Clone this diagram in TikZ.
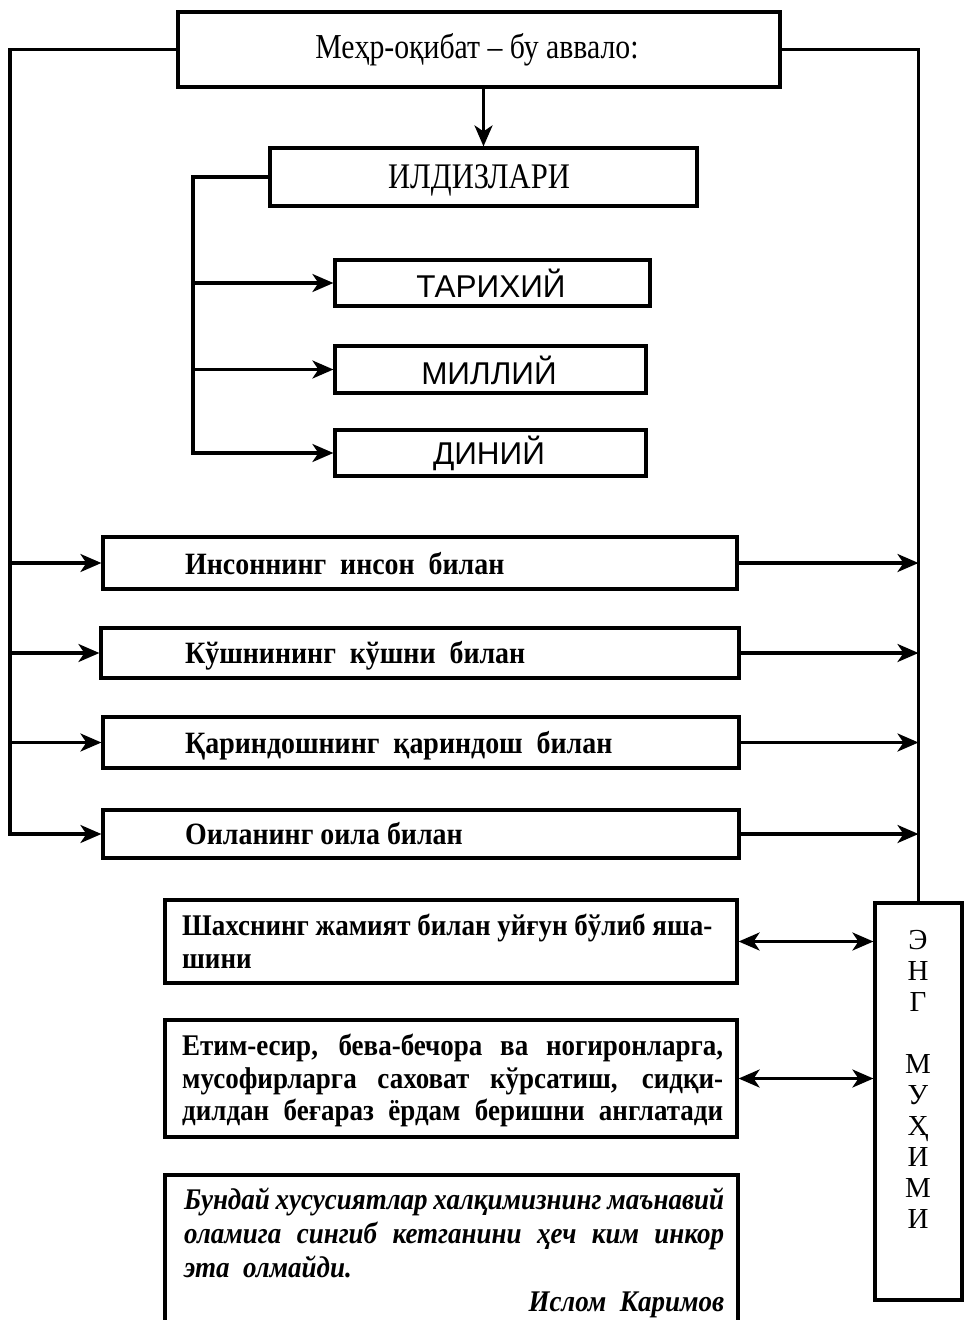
\documentclass[tikz,border=0pt]{standalone}
\usepackage{fontspec}
\setmainfont{Liberation Serif}
\newfontfamily\titlefont[FakeStretch=0.85]{Liberation Serif}
\newfontfamily\bodyfont[FakeStretch=0.9]{Liberation Serif}
\newfontfamily\sansf{Liberation Sans}
\usetikzlibrary{arrows.meta,fit}
\begin{document}
\begin{tikzpicture}[x=1pt,y=-1pt,
  box/.style={draw,line width=3.2pt,inner sep=0pt},
  conn/.style={line width=3.2pt},
  tip/.tip={Stealth[length=21pt,width=18pt,inset=6pt]},
  arr/.style={conn,-tip},
  darr/.style={conn,tip-tip},
  body/.style={font=\bodyfont\fontsize{31}{32.5}\selectfont\bfseries, inner sep=0pt, anchor=base west},
  para/.style={font=\bodyfont\fontsize{30}{32.5}\selectfont\bfseries, inner sep=0pt, anchor=north west, align=left},
  caps/.style={font=\sansf\fontsize{31.5}{36}\selectfont, inner sep=0pt},
]
\useasboundingbox (0,0) rectangle (964,1320);
\fill[white] (0,0) rectangle (964,1320);
% boxes
\node[box, fit={(178,12) (780,87)}] (top) {};
\node[box, fit={(270,148) (697,206)}] (ild) {};
\node[box, fit={(335,260) (650,306)}] (t1) {};
\node[box, fit={(335,346) (646,393)}] (t2) {};
\node[box, fit={(335,430) (646,476)}] (t3) {};
\node[box, fit={(103,537) (737,589)}] (b1) {};
\node[box, fit={(101,628) (739,678)}] (b2) {};
\node[box, fit={(103,717) (739,768)}] (b3) {};
\node[box, fit={(103,810) (739,858)}] (b4) {};
\node[box, fit={(165,900) (737,983)}] (s1) {};
\node[box, fit={(165,1020) (737,1137)}] (s2) {};
\node[box, fit={(165,1175) (738,1340)}] (q) {};
\node[box, fit={(875,903) (962,1300)}] (eng) {};
% texts
\node[font=\titlefont\fontsize{35}{38}\selectfont, inner sep=0pt] (toptx) at (477,50) {Меҳр-оқибат – бу аввало:};
\node[font=\titlefont\fontsize{36}{40}\selectfont, inner sep=0pt] (ildtx) at (479,180) {ИЛДИЗЛАРИ};
\node[caps] (t1tx) at (491,283) {ТАРИХИЙ};
\node[caps] (t2tx) at (489,370) {МИЛЛИЙ};
\node[caps] (t3tx) at (489,453) {ДИНИЙ};
\node[body] (b1tx) at (185,574) {Инсоннинг\ \ инсон\ \ билан};
\node[body] (b2tx) at (185,663) {Кўшнининг\ \ кўшни\ \ билан};
\node[body] (b3tx) at (185,753) {Қариндошнинг\ \ қариндош\ \ билан};
\node[body] (b4tx) at (185,844) {Оиланинг оила билан};
\node[para] (s1tx) at (182,914) {Шахснинг жамият билан уйғун бўлиб яша-\\шини};
\node[para] (s2tx) at (182,1034) {%
\makebox[541pt][s]{Етим-есир, бева-бечора ва ногиронларга,}\\
\makebox[541pt][s]{мусофирларга саховат кўрсатиш, сидқи-}\\
\makebox[541pt][s]{дилдан беғараз ёрдам беришни англатади}};
\node[para, font=\bodyfont\fontsize{30}{34}\selectfont\bfseries\itshape] (qtx) at (184,1188) {%
\makebox[540pt][s]{Бундай хусусиятлар халқимизнинг маънавий}\\
\makebox[540pt][s]{оламига сингиб кетганини ҳеч ким инкор}\\
эта\ \ олмайди.\\
\makebox[540pt][r]{Ислом\ \ Каримов}};
\node[font=\fontsize{29}{31}\selectfont, inner sep=0pt, anchor=north, align=center] (engtx) at (918,930) {Э\\Н\\Г\\[31pt]М\\У\\Ҳ\\И\\М\\И};
% connectors
\coordinate (lx) at (10,0);
\coordinate (bx) at (193,0);
\draw[arr] (ild.north |- top.south) -- (ild.north);
\draw[arr] (top.west) -| (lx |- b4) -- (b4.west);
\draw[arr] (lx |- b1) -- (b1.west);
\draw[arr] (lx |- b2) -- (b2.west);
\draw[arr] (lx |- b3) -- (b3.west);
\draw[conn] (top.east) -| (eng.north);
\draw[arr] (ild.west) -| (bx |- t3) -- (t3.west);
\draw[arr] (bx |- t1) -- (t1.west);
\draw[arr] (bx |- t2) -- (t2.west);
\draw[arr] (b1.east) -- (b1.east -| eng.north);
\draw[arr] (b2.east) -- (b2.east -| eng.north);
\draw[arr] (b3.east) -- (b3.east -| eng.north);
\draw[arr] (b4.east) -- (b4.east -| eng.north);
\draw[darr] (s1.east) -- (s1.east -| eng.west);
\draw[darr] (s2.east) -- (s2.east -| eng.west);
\end{tikzpicture}
\end{document}
